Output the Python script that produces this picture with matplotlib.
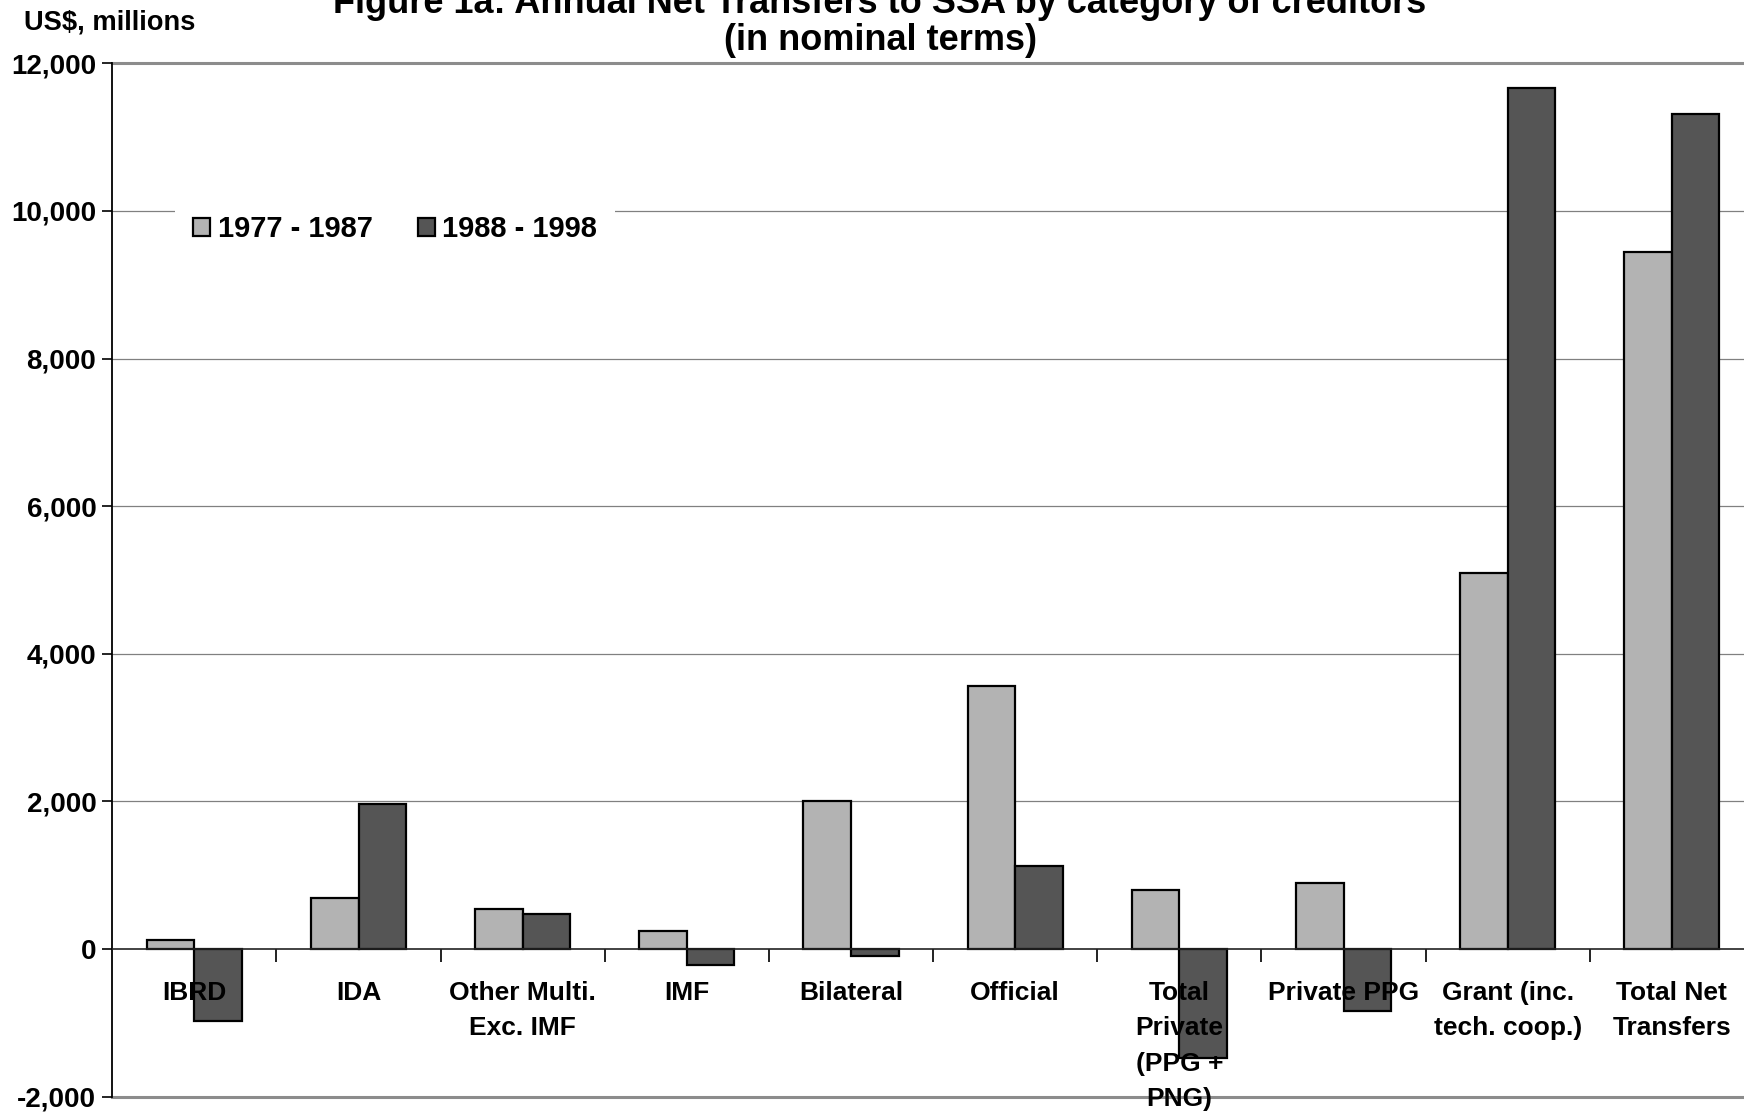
# Annual net transfers to SSA by creditor category, two decades side by side
import numpy as np
import matplotlib.pyplot as plt
from matplotlib.patches import Patch
from matplotlib.ticker import FuncFormatter

plt.rcParams['font.family'] = ['Liberation Sans', 'DejaVu Sans']
plt.rcParams['font.weight'] = 'bold'

# Data (US$ millions)
categories = ['IBRD', 'IDA', 'Other Multi.\nExc. IMF', 'IMF', 'Bilateral', 'Official',
              'Total\nPrivate\n(PPG +\nPNG)', 'Private PPG', 'Grant (inc.\ntech. coop.)',
              'Total Net\nTransfers']
period_1977_1987 = [120, 690, 540, 250, 2000, 3560, 800, 890, 5100, 9440]
period_1988_1998 = [-980, 1970, 480, -210, -90, 1130, -1480, -840, 11670, 11310]
series_labels = ['1977 - 1987', '1988 - 1998']
y_ticks = list(range(-2000, 12001, 2000))

light = '#b3b3b3'
dark = '#555555'

fig = plt.figure(figsize=(17.44, 11.12), dpi=100)
ax = fig.add_axes([0.0644, 0.0138, 0.9413, 0.9292])

x = np.arange(len(categories))
w = 0.29
ax.bar(x - w / 2, period_1977_1987, width=w, color=light, edgecolor='black', linewidth=1.6, zorder=3)
ax.bar(x + w / 2, period_1988_1998, width=w, color=dark, edgecolor='black', linewidth=1.6, zorder=3)

ax.set_xlim(-0.5, len(categories) - 0.5)
ax.set_ylim(-2000, 12000)

# horizontal gridlines, heavier frame lines at top and bottom
for v in y_ticks:
    if v in (-2000, 12000):
        ax.axhline(v, color='#8c8c8c', lw=2.2, zorder=1, clip_on=False)
    elif v != 0:
        ax.axhline(v, color='#808080', lw=0.9, zorder=1)

for s in ['top', 'right', 'bottom']:
    ax.spines[s].set_visible(False)
ax.spines['left'].set_color('black')
ax.spines['left'].set_linewidth(1.3)

# category axis crossing at zero, ticks between categories
ax.axhline(0, color='#222222', lw=1.2, zorder=4)
ax.set_xticks([])
for b in np.arange(0.5, len(categories) - 0.5, 1.0):
    ax.plot([b, b], [0, 0], marker=3, markersize=9, color='#222222', mew=1.2,
            zorder=4, clip_on=False)

ax.set_yticks(y_ticks)
ax.yaxis.set_major_formatter(FuncFormatter(lambda v, p: f'{int(v):,}'))
ax.tick_params(axis='y', direction='out', length=7, width=1.2, pad=4.5, labelsize=20)

for i, lab in enumerate(categories):
    ax.annotate(lab, xy=(i, 0), xycoords='data', xytext=(0, -23),
                textcoords='offset points', ha='center', va='top',
                fontsize=19, fontweight='bold', linespacing=1.6, zorder=5)

handles = [Patch(facecolor=light, edgecolor='black', linewidth=1.6),
           Patch(facecolor=dark, edgecolor='black', linewidth=1.6)]
leg = fig.legend(handles, series_labels, loc='center', bbox_to_anchor=(0.2265, 0.794),
                 ncol=2, frameon=True, facecolor='white', edgecolor='none', framealpha=1,
                 fontsize=21, handlelength=0.6, handleheight=0.6, handletextpad=0.25,
                 columnspacing=1.55, borderpad=0.6, fancybox=False)
leg.set_zorder(6)

fig.text(0.5046, 1 - 13 / 1112, 'Figure 1a: Annual Net Transfers to SSA by category of creditors',
         ha='center', va='baseline', fontsize=26, fontweight='bold')
fig.text(0.5046, 1 - 50 / 1112, '(in nominal terms)',
         ha='center', va='baseline', fontsize=26, fontweight='bold')
fig.text(24 / 1744, 1 - 23 / 1112, 'US$, millions', ha='left', va='center',
         fontsize=19.6, fontweight='bold')

fig.savefig('out.png', dpi=100)
